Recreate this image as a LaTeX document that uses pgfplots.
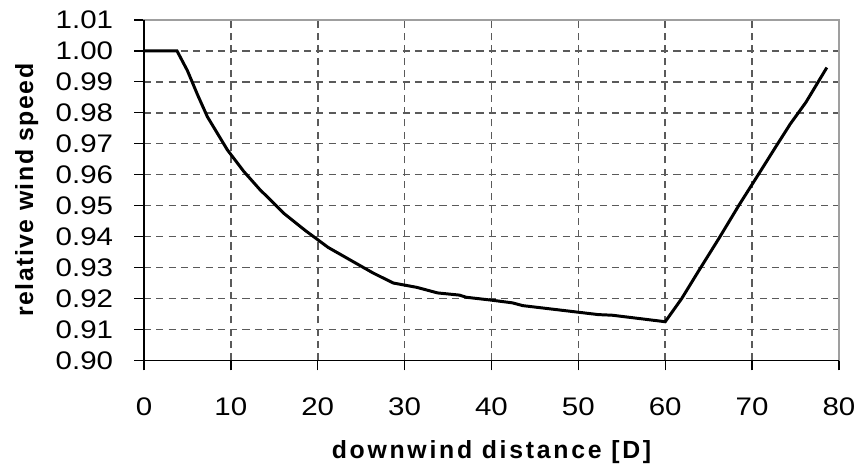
\documentclass[border=0pt]{standalone}
\usepackage{fontspec}
\setmainfont{Liberation Sans}
\newfontfamily\tickfont[FakeStretch=1.16]{Liberation Sans}
\newfontfamily\xlabfont[LetterSpace=11]{Liberation Sans}
\newfontfamily\ylabfont[LetterSpace=6]{Liberation Sans}
\usepackage{pgfplots}
\pgfplotsset{compat=1.18}
\definecolor{gridgray}{RGB}{90,90,90}

\begin{document}
\begin{tikzpicture}
\begin{axis}[
  scale only axis, width=350pt, height=171.5pt,
  xmin=0, xmax=80, ymin=0.90, ymax=1.01,
  xtick={0,10,20,30,40,50,60,70,80},
  ytick={0.90,0.91,0.92,0.93,0.94,0.95,0.96,0.97,0.98,0.99,1.00,1.01},
  xtick pos=left, ytick pos=left,
  tick align=outside, major tick length=5pt,
  tick style={black, line width=0.7pt},
  grid=major,
  major grid style={gridgray, dash pattern=on 3.6pt off 2.6pt, line width=0.8pt},
  axis line style={gray!75, line width=0.8pt},
  /pgf/number format/assume math mode=true,
  tick label style={font=\tickfont\fontsize{12.8}{15}\selectfont},
  xticklabel style={yshift=-10.5pt},
  yticklabel style={xshift=-7pt, /pgf/number format/.cd, fixed, fixed zerofill, precision=2},
  xlabel={downwind distance [D]},
  ylabel={relative wind speed},
  xlabel style={font=\xlabfont\bfseries\fontsize{12.5}{15}\selectfont,
                at={(axis description cs:0.5,-0.268)}, anchor=center},
  ylabel style={font=\ylabfont\bfseries\fontsize{12.5}{15}\selectfont,
                at={(axis description cs:-0.1686,0.5)}, anchor=center},
  clip=false,
]
\draw[black, line width=0.8pt] (rel axis cs:0,1) -- (rel axis cs:0,0) -- (rel axis cs:1,0);
\addplot[black, line width=1.5pt] coordinates {
  (0,1.000) (3.8,1.000) (5.0,0.9936) (6.2,0.9856) (7.3,0.9787) (9.6,0.968)
  (11.5,0.961) (13.4,0.955) (14.4,0.9523) (16.1,0.9475) (18.6,0.9419)
  (21.2,0.9365) (23.7,0.9325) (26.4,0.9282) (28.7,0.925) (31.4,0.9236)
  (33.8,0.9218) (36.3,0.9211) (37.1,0.9204) (39.9,0.9195) (42.4,0.9186)
  (43.6,0.9177) (49.9,0.9156) (52.3,0.9148) (53.9,0.9146) (60.0,0.9125)
  (61.9,0.920) (63.8,0.9287) (66.2,0.9395) (68.5,0.9502) (70.8,0.9604)
  (72.7,0.9689) (74.4,0.9764) (76.2,0.9834) (78.6,0.9946)
};
\end{axis}
\path ([xshift=-72.5pt,yshift=-55pt]current axis.south west)
  rectangle ([xshift=8.5pt,yshift=10pt]current axis.north east);
\end{tikzpicture}
\end{document}
